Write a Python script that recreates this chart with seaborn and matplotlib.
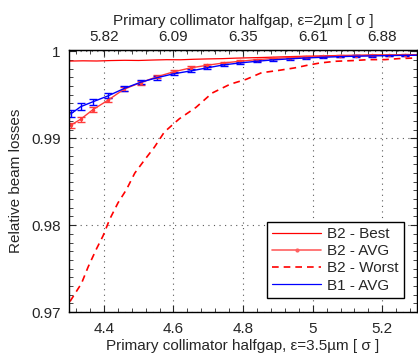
import numpy as np
import pandas as pd
import seaborn as sns
import matplotlib.pyplot as plt
from matplotlib.lines import Line2D
from matplotlib.ticker import MultipleLocator

# B2 best case (dense, slightly noisy)
best_x = [4.30, 4.34, 4.38, 4.42, 4.46, 4.50, 4.54, 4.58, 4.62, 4.66, 4.70, 4.74, 4.78,
          4.82, 4.86, 4.90, 4.94, 4.98, 5.02, 5.06, 5.10, 5.14, 5.18, 5.22, 5.26, 5.30]
best_y = [0.99888, 0.99891, 0.99889, 0.99894, 0.99897, 0.99895, 0.99900, 0.99904, 0.99903,
          0.99909, 0.99913, 0.99916, 0.99922, 0.99926, 0.99930, 0.99935, 0.99940, 0.99944,
          0.99947, 0.99951, 0.99954, 0.99956, 0.99959, 0.99958, 0.99961, 0.99962]

# averaged runs with error bars
avg_x = [4.305, 4.334, 4.369, 4.413, 4.458, 4.506, 4.553, 4.601, 4.650, 4.697, 4.745, 4.792,
         4.840, 4.887, 4.934, 4.982, 5.030, 5.077, 5.124, 5.171, 5.219, 5.266, 5.313]
b2_avg = [0.99150, 0.99220, 0.99330, 0.99440, 0.99565, 0.99640, 0.99708, 0.99765, 0.99810,
          0.99840, 0.99867, 0.99886, 0.99905, 0.99918, 0.99928, 0.99936, 0.99942, 0.99946,
          0.99950, 0.99953, 0.99955, 0.99957, 0.99958]
b2_err = [0.00030, 0.00030, 0.00028, 0.00026, 0.00024, 0.00022, 0.00020, 0.00018, 0.00016,
          0.00015, 0.00014, 0.00013, 0.00012, 0.00011, 0.00010, 0.00010, 0.00009, 0.00009,
          0.00008, 0.00008, 0.00008, 0.00007, 0.00007]
b1_avg = [0.99280, 0.99364, 0.99420, 0.99489, 0.99572, 0.99645, 0.99697, 0.99742, 0.99775,
          0.99810, 0.99845, 0.99867, 0.99886, 0.99902, 0.99914, 0.99924, 0.99932, 0.99939,
          0.99944, 0.99948, 0.99951, 0.99954, 0.99956]
b1_err = [0.00040, 0.00038, 0.00035, 0.00030, 0.00027, 0.00024, 0.00021, 0.00019, 0.00017,
          0.00016, 0.00015, 0.00014, 0.00013, 0.00012, 0.00011, 0.00010, 0.00010, 0.00009,
          0.00009, 0.00008, 0.00008, 0.00008, 0.00007]

# B2 worst case
worst_x = [4.303, 4.336, 4.355, 4.379, 4.398, 4.417, 4.441, 4.465, 4.489, 4.517, 4.546, 4.574,
           4.617, 4.665, 4.711, 4.763, 4.809, 4.853, 4.901, 4.949, 4.986, 5.022, 5.067, 5.117,
           5.162, 5.208, 5.249, 5.300]
worst_y = [0.97122, 0.97330, 0.97519, 0.97727, 0.97878, 0.98068, 0.98258, 0.98409, 0.98599,
           0.98750, 0.98901, 0.99072, 0.99224, 0.99356, 0.99520, 0.99622, 0.99678, 0.99754,
           0.99780, 0.99810, 0.99841, 0.99867, 0.99886, 0.99894, 0.99905, 0.99905, 0.99917,
           0.99924]

bottom_ticks = [4.4, 4.6, 4.8, 5.0, 5.2]
bottom_labels = ['4.4', '4.6', '4.8', '5', '5.2']
top_labels = ['5.82', '6.09', '6.35', '6.61', '6.88']

sns.set_style('ticks')
plt.rcParams['font.family'] = ['Liberation Sans', 'DejaVu Sans']
fs = 11

fig = plt.figure(figsize=(4.18, 3.53), dpi=100)
ax = fig.add_axes([0.165, 0.116, 0.833, 0.741])

red_avg = '#ff3b3b'
sns.lineplot(x=best_x, y=best_y, ax=ax, color='red', lw=0.9, legend=False)
ax.errorbar(avg_x, b2_avg, yerr=b2_err, color=red_avg, lw=1.0, marker='.', ms=3,
            capsize=3, elinewidth=1.0)
sns.lineplot(x=worst_x, y=worst_y, ax=ax, color='red', lw=1.2, dashes=(4, 3), legend=False)
ax.errorbar(avg_x, b1_avg, yerr=b1_err, color='blue', lw=1.0, capsize=3, elinewidth=1.0)

ax.set_xlim(4.3, 5.3)
ax.set_ylim(0.97, 1.0001)
ax.set_xticks(bottom_ticks)
ax.set_xticklabels(bottom_labels)
ax.set_yticks([0.97, 0.98, 0.99, 1.0])
ax.set_yticklabels(['0.97', '0.98', '0.99', '1'])
ax.xaxis.set_minor_locator(MultipleLocator(0.04))
ax.yaxis.set_minor_locator(MultipleLocator(0.001))
ax.tick_params(which='both', direction='in', top=False, right=True, labelsize=fs)
ax.tick_params(which='major', length=5)
ax.tick_params(which='minor', length=3)
ax.tick_params(axis='x', which='major', pad=7)
ax.tick_params(axis='y', which='major', pad=6)
ax.grid(True, which='major', color='0.35', linestyle=(0, (1, 4)), lw=0.8)

ax.set_xlabel('Primary collimator halfgap, ε=3.5µm [ σ ]', fontsize=fs, labelpad=2)
ax.set_ylabel('Relative beam losses', fontsize=fs, labelpad=6)

top = ax.secondary_xaxis('top')
top.set_xticks(bottom_ticks)
top.set_xticklabels(top_labels)
top.xaxis.set_minor_locator(MultipleLocator(0.04))
top.tick_params(which='both', direction='in', labelsize=fs)
top.tick_params(which='major', length=5, pad=5)
top.tick_params(which='minor', length=3)
top.set_xlabel('Primary collimator halfgap, ε=2µm [ σ ]', fontsize=fs, labelpad=3)

for s in ax.spines.values():
    s.set_linewidth(1.0)
    s.set_color('black')

handles = [
    Line2D([], [], color='red', lw=0.9),
    Line2D([], [], color='#ff6060', lw=1.2, marker='.', ms=4),
    Line2D([], [], color='red', lw=1.2, dashes=(4, 3)),
    Line2D([], [], color='blue', lw=0.9),
]
labels = ['B2 - Best', 'B2 - AVG', 'B2 - Worst', 'B1 - AVG']
leg = ax.legend(handles, labels, loc='lower right', frameon=True, fancybox=False,
                fontsize=fs, handlelength=3.2, borderpad=0.35, labelspacing=0.2,
                handletextpad=0.4, bbox_to_anchor=(0.985, 0.025))
leg.get_frame().set_edgecolor('black')
leg.get_frame().set_linewidth(1.0)
leg.get_frame().set_alpha(1.0)

fig.savefig('out.png', dpi=100)
